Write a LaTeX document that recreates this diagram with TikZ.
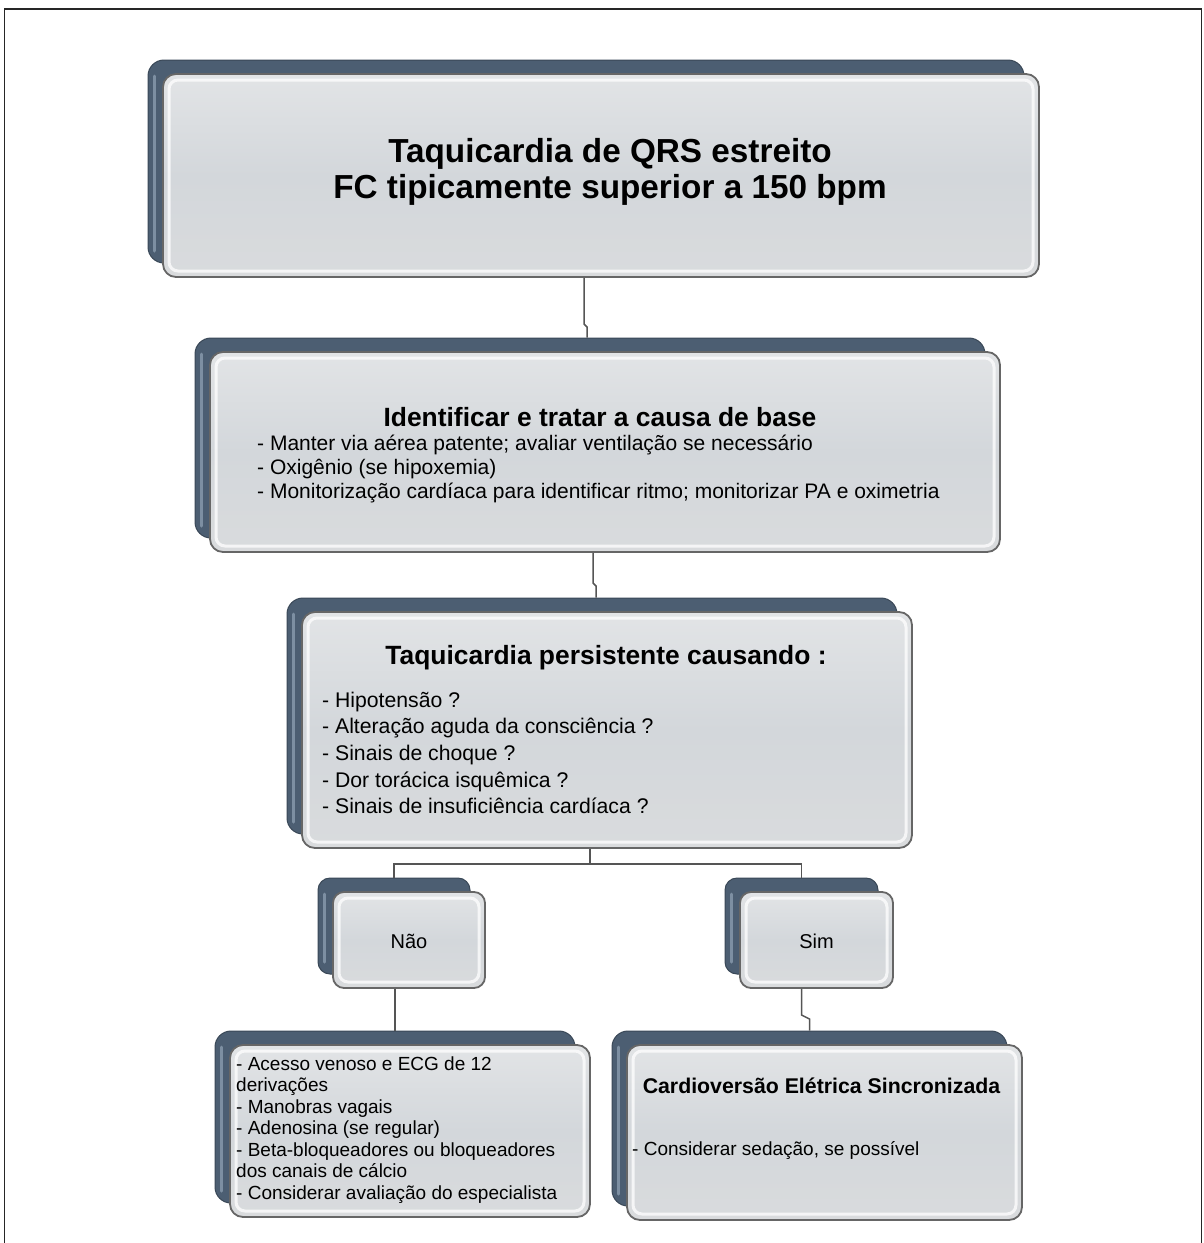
\documentclass[tikz,border=0pt]{standalone}
\usepackage{fontspec}
\setmainfont{Liberation Sans}
\usetikzlibrary{calc}
\definecolor{plate}{HTML}{4C5E72}
\definecolor{plateedge}{HTML}{3A4857}
\definecolor{platehi}{HTML}{7D8FA2}
\definecolor{boxtop}{HTML}{E2E4E6}
\definecolor{boxmid}{HTML}{D3D7DB}
\definecolor{boxbot}{HTML}{D9DBDD}
\definecolor{boxline}{HTML}{666666}
\definecolor{connc}{HTML}{555555}
\tikzset{
  backplate/.style={shape=rectangle, draw=plateedge, line width=1pt, fill=plate,
    rounded corners=16pt, inner sep=0pt,
    path picture={\draw[platehi, line width=3pt, line cap=round]
      ([shift={(6pt,-16pt)}]path picture bounding box.north west) --
      ([shift={(6pt,12pt)}]path picture bounding box.south west);}},
  frontbox/.style={shape=rectangle, draw=boxline, line width=1.8pt, rounded corners=13pt,
    inner sep=0pt, top color=boxtop, bottom color=boxbot, middle color=boxmid,
    path picture={\draw[white, line width=3pt, opacity=.75, rounded corners=9pt]
      ([shift={(6pt,-6pt)}]path picture bounding box.north west) rectangle
      ([shift={(-6pt,6pt)}]path picture bounding box.south east);}},
  conn/.style={draw=connc, line width=1.5pt},
  bigtitle/.style={font=\bfseries\fontsize{33.3}{36.5}\selectfont, align=center},
  midtitle/.style={font=\bfseries\fontsize{26.4}{30}\selectfont, align=center},
  bodytxt/.style={font=\fontsize{21}{24}\selectfont, align=left, inner sep=0pt},
  smalltxt/.style={font=\fontsize{19}{21.5}\selectfont, align=left, inner sep=0pt},
}
\begin{document}
\begin{tikzpicture}[x=1pt, y=-1pt]
\useasboundingbox (0,0) rectangle (1203,1243);
% outer frame
\draw[black!85, line width=1.5pt] (4.5,1243) -- (4.5,9) -- (1201.5,9) -- (1201.5,1243);

% box 1
\node[backplate, minimum width=876pt, minimum height=203pt] (b1b) at (586,161.5) {};
\node[frontbox, minimum width=876pt, minimum height=203pt] (b1f) at (601,175.5) {};
\node[bigtitle] (t1) at (610,172) {Taquicardia de QRS estreito\\FC tipicamente superior a 150 bpm};

% box 2
\node[backplate, minimum width=790pt, minimum height=200pt] (b2b) at (590,438) {};
\node[frontbox, minimum width=790pt, minimum height=200pt] (b2f) at (605,452) {};
\node[midtitle] (t2) at (600,417) {Identificar e tratar a causa de base};
\node[bodytxt, anchor=west] (l2) at (257,469) {- Manter via aérea patente; avaliar ventilação se necessário\\- Oxigênio (se hipoxemia)\\- Monitorização cardíaca para identificar ritmo; monitorizar PA e oximetria};

% box 3
\node[backplate, minimum width=610pt, minimum height=236pt] (b3b) at (592,716) {};
\node[frontbox, minimum width=610pt, minimum height=236pt] (b3f) at (607,730) {};
\node[midtitle] (t3) at (606,658) {Taquicardia persistente causando :};
\node[bodytxt, anchor=west, font=\fontsize{21.2}{26.7}\selectfont] (l3) at (322,753) {- Hipotensão ?\\- Alteração aguda da consciência ?\\- Sinais de choque ?\\- Dor torácica isquêmica ?\\- Sinais de insuficiência cardíaca ?};

% Não
\node[backplate, minimum width=152pt, minimum height=96pt, rounded corners=12pt] (nb) at (394,926) {};
\node[frontbox, minimum width=152pt, minimum height=96pt, rounded corners=11pt] (nf) at (409,940) {};
\node[font=\fontsize{20}{23}\selectfont] (tn) at (409,941) {Não};

% Sim
\node[backplate, minimum width=153pt, minimum height=96pt, rounded corners=12pt] (sb) at (801.5,926) {};
\node[frontbox, minimum width=153pt, minimum height=96pt, rounded corners=11pt] (sf) at (816.5,940) {};
\node[font=\fontsize{20}{23}\selectfont] (ts) at (816.5,941) {Sim};

% bottom left
\node[backplate, minimum width=360pt, minimum height=172pt] (blb) at (395,1117) {};
\node[frontbox, minimum width=360pt, minimum height=172pt] (blf) at (410,1131) {};
\node[smalltxt, anchor=west] (tbl) at (236,1130) {- Acesso venoso e ECG de 12\\derivações\\- Manobras vagais\\- Adenosina (se regular)\\- Beta-bloqueadores ou bloqueadores\\dos canais de cálcio\\- Considerar avaliação do especialista};

% bottom right
\node[backplate, minimum width=395pt, minimum height=175pt] (brb) at (809.5,1118.5) {};
\node[frontbox, minimum width=395pt, minimum height=175pt] (brf) at (824.5,1132.5) {};
\node[font=\bfseries\fontsize{21.3}{24}\selectfont] (tbr) at (821.5,1086) {Cardioversão Elétrica Sincronizada};
\node[smalltxt, anchor=west] (tbr2) at (632,1151) {- Considerar sedação, se possível};

% connectors
\coordinate (j1a) at (584,324);
\coordinate (j1b) at (587,327);
\draw[conn] (b1f.south -| j1a) -- (j1a) -- (j1b) -- (j1b |- b2b.north);
\coordinate (j2a) at (593,583);
\coordinate (j2b) at (596,586);
\draw[conn] (b2f.south -| j2a) -- (j2a) -- (j2b) -- (j2b |- b3b.north);
\coordinate (h3) at (590,864);
\draw[conn] (b3f.south -| h3) -- (h3);
\draw[conn] (nb.north) -- (nb.north |- h3) -- (sb.north |- h3) -- (sb.north);
\draw[conn] (blb.north |- nf.south) -- (blb.north);
\coordinate (j5a) at (801.5,1015);
\coordinate (j5b) at (809.5,1019);
\draw[conn] (j5a |- sf.south) -- (j5a) -- (j5b) -- (brb.north);
\end{tikzpicture}
\end{document}
